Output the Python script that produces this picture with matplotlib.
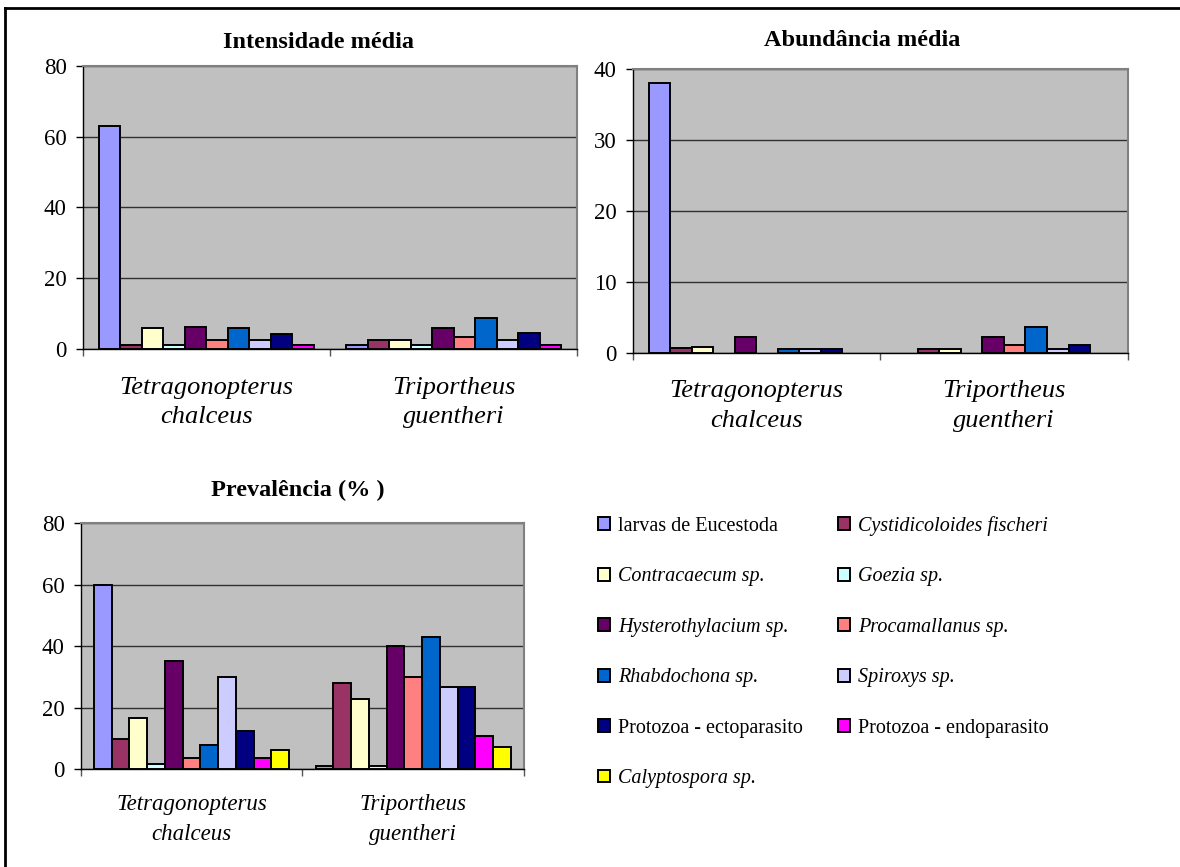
import matplotlib.pyplot as plt
import numpy as np
from matplotlib.lines import Line2D

plt.rcParams['font.family'] = ['Liberation Serif', 'DejaVu Serif']

# categories (fish hosts)
hosts = ['Tetragonopterus\nchalceus', 'Triportheus\nguentheri']

# parasite taxa (legend order)
taxa = ['larvas de Eucestoda', 'Cystidicoloides fischeri', 'Contracaecum sp.',
        'Goezia sp.', 'Hysterothylacium sp.', 'Procamallanus sp.',
        'Rhabdochona sp.', 'Spiroxys sp.', 'Protozoa - ectoparasito',
        'Protozoa - endoparasito', 'Calyptospora sp.']
italic_taxa = [False, True, True, True, True, True, True, True, False, False, True]
colors = ['#9999FF', '#993366', '#FFFFCC', '#CCFFFF', '#660066', '#FF8080',
          '#0066CC', '#CCCCFF', '#000080', '#FF00FF', '#FFFF00']

# values per taxon: [T. chalceus, T. guentheri]
intensidade = [[63, 1.1], [1.1, 2.4], [5.8, 2.4], [1.1, 1.1], [6.3, 5.8],
               [2.4, 3.5], [5.8, 8.7], [2.4, 2.4], [4.1, 4.6], [1.1, 1.1]]
abundancia = [[38, 0], [0.7, 0.56], [0.8, 0.56], [0, 0], [2.25, 2.25],
              [0, 1.08], [0.56, 3.66], [0.56, 0.56], [0.56, 1.08], [0, 0]]
prevalencia = [[60, 1], [9.7, 28], [16.5, 22.7], [1.6, 1], [35.2, 40],
               [3.5, 30], [7.8, 43], [30, 26.6], [12.5, 26.6], [3.5, 10.7],
               [6.2, 7.3]]


def bar_panel(ax, data, ymax, ystep, title, title_xy, label_size, label_pad, spacing):
    n = len(data)
    w = 1.0 / (n + 1.5)
    x = np.arange(len(hosts))
    bars = []
    for i, vals in enumerate(data):
        b = ax.bar(x + (i - (n - 1) / 2) * w, vals, width=w, color=colors[i],
                   edgecolor='black', linewidth=1.4, zorder=3)
        # Excel draws nothing for zero values
        for p in b.patches:
            if p.get_height() == 0:
                p.set_visible(False)
        bars.append(b)
    ax.set_facecolor('#C0C0C0')
    ax.set_xlim(-0.5, len(hosts) - 0.5)
    ax.set_ylim(0, ymax)
    ax.set_yticks(np.arange(0, ymax + 1, ystep))
    ax.yaxis.grid(True, color='#303030', linewidth=1.0, zorder=1)
    ax.set_axisbelow(True)
    ax.set_xticks(x)
    ax.set_xticklabels(hosts, fontstyle='italic', fontsize=label_size, linespacing=spacing)
    ax.set_xticks(np.arange(-0.5, len(hosts), 1.0), minor=True)
    ax.tick_params(axis='x', which='major', length=0, pad=label_pad)
    ax.tick_params(axis='x', which='minor', length=5, width=1, color='#555555')
    ax.tick_params(axis='y', labelsize=16.5, length=5, width=1, pad=6.5)
    for s in ['top', 'right']:
        ax.spines[s].set_color('#808080')
        ax.spines[s].set_linewidth(1.5)
    for s in ['left', 'bottom']:
        ax.spines[s].set_color('black')
        ax.spines[s].set_linewidth(1.0)
    fig.text(title_xy[0] / 1180, 1 - title_xy[1] / 867, title, ha='center',
             va='center', fontsize=17.5, fontweight='bold')
    return bars


fig = plt.figure(figsize=(11.8, 8.67), dpi=100)

ax1 = fig.add_axes([0.0700, 0.5975, 0.4193, 0.3264])
bar_panel(ax1, intensidade, 80, 20, 'Intensidade média', (318, 42), 19, 20, 1.45)

ax2 = fig.add_axes([0.5361, 0.5932, 0.4196, 0.3272])
bar_panel(ax2, abundancia, 40, 10, 'Abundância média', (862, 40), 19, 20, 1.45)

ax3 = fig.add_axes([0.0684, 0.1130, 0.3757, 0.2834])
bars3 = bar_panel(ax3, prevalencia, 80, 20, 'Prevalência (% )', (298, 490), 16.5, 18, 1.55)

# legend: row-wise order in two columns
order = list(range(0, 11, 2)) + list(range(1, 11, 2))
leg = fig.legend([bars3[i] for i in order], [taxa[i] for i in order],
                 loc='upper left', bbox_to_anchor=(590 / 1180, 1 - 508 / 867),
                 ncol=2, frameon=False, fontsize=14.5, handlelength=0.6,
                 handleheight=0.6, handletextpad=0.4, labelspacing=1.56,
                 columnspacing=1.75, borderaxespad=0)
for t, i in zip(leg.get_texts(), order):
    if italic_taxa[i]:
        t.set_fontstyle('italic')

# outer frame (left and top edges visible)
fig.add_artist(Line2D([5 / 1180, 5 / 1180], [0, 1 - 8 / 867], color='black', lw=2))
fig.add_artist(Line2D([5 / 1180, 1], [1 - 8 / 867, 1 - 8 / 867], color='black', lw=2))

fig.savefig('out.png', dpi=100)
